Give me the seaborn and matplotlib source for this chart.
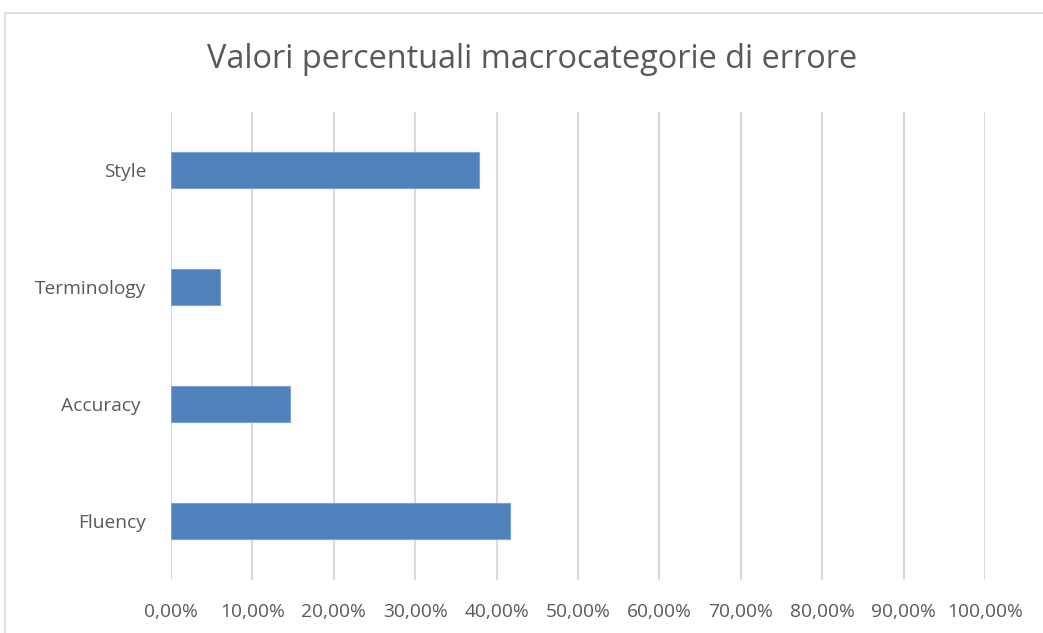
import matplotlib
matplotlib.use("Agg")
import matplotlib.pyplot as plt
import matplotlib.ticker as mticker
from matplotlib.patches import Rectangle
import seaborn as sns
import pandas as pd

categorie = ["Style", "Terminology", "Accuracy ", "Fluency"]
valori = [0.378, 0.060, 0.146, 0.416]
tick_valori = [i / 10 for i in range(11)]

df = pd.DataFrame({"categoria": categorie, "valore": valori})

sns.set_style("white")
plt.rcParams["font.family"] = ["Open Sans", "DejaVu Sans"]

fig = plt.figure(figsize=(10.43, 6.33), dpi=100)
ax = fig.add_axes([171 / 1043, 1 - 579.5 / 633, 814 / 1043, 468 / 633])

# cornice esterna del grafico
fig.patches.append(Rectangle((5 / 1043, -0.01), 1.1, 1 - 13 / 633 + 0.01,
                             transform=fig.transFigure, fill=False,
                             edgecolor="#d9d9d9", linewidth=1.2))

sns.barplot(data=df, x="valore", y="categoria", order=categorie, orient="h",
            color="#4f81bd", width=0.31, edgecolor="#7fa3d1", linewidth=0.8,
            saturation=1, ax=ax, zorder=3)

ax.set_xlim(0, 1.0)
ax.set_xticks(tick_valori)
ax.xaxis.set_major_formatter(mticker.FuncFormatter(
    lambda v, p: f"{v * 100:.2f}%".replace(".", ",")))
ax.grid(axis="x", color="#d9d9d9", linewidth=1.5, zorder=0)
ax.grid(axis="y", visible=False)
for s in ax.spines.values():
    s.set_visible(False)
ax.tick_params(axis="both", length=0, labelsize=13.8, colors="#595959")
ax.tick_params(axis="x", pad=17)
ax.tick_params(axis="y", pad=18)
ax.set_xlabel("")
ax.set_ylabel("")

fig.text(532 / 1043, 1 - 60 / 633, "Valori percentuali macrocategorie di errore",
         ha="center", va="center", fontsize=23.4, color="#595959")

fig.savefig("out.png", dpi=100)
